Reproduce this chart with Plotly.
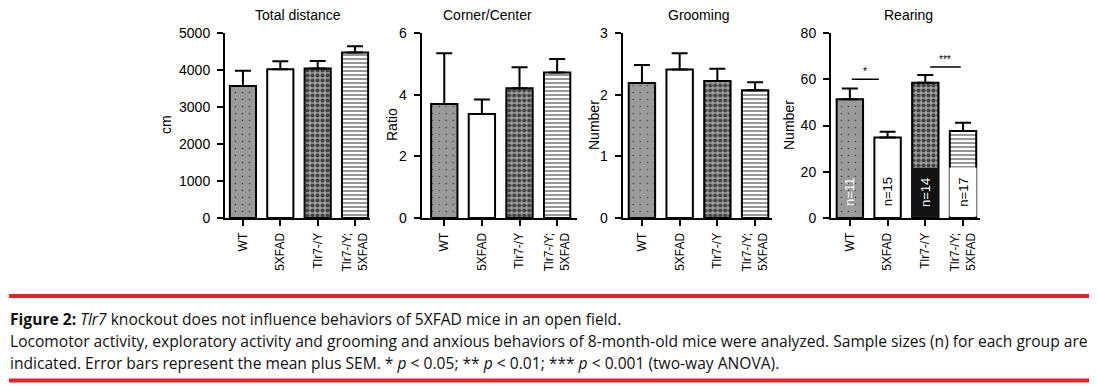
import plotly.graph_objects as go

# ---------------- data ----------------
groups = ["WT", "5XFAD", "Tlr7-/Y", "Tlr7-/Y;<br>5XFAD"]
panel_titles = ["Total distance", "Corner/Center", "Grooming", "Rearing"]
y_titles = ["cm", "Ratio", "Number", "Number"]

total_distance = [3570, 4020, 4040, 4470]
total_distance_sem = [407, 215, 200, 170]
corner_center = [3.70, 3.37, 4.21, 4.72]
corner_center_sem = [1.64, 0.47, 0.68, 0.44]
grooming = [2.19, 2.41, 2.22, 2.07]
grooming_sem = [0.29, 0.26, 0.20, 0.13]
rearing = [51.3, 34.8, 58.5, 37.6]
rearing_sem = [4.7, 2.5, 3.3, 3.6]

y_max = [5000, 6, 3, 80]
y_dtick = [1000, 2, 1, 20]

n_labels = ["n=11", "n=15", "n=14", "n=17"]
# significance brackets in Rearing
sig_start = [0.05, 2.13]
sig_end = [0.77, 2.94]
sig_height = [60.0, 65.3]
sig_label = ["*", "***"]

caption_lines = [
    "<b>Figure 2:</b> <i>Tlr7</i> knockout does not influence behaviors of 5XFAD mice in an open field.",
    "Locomotor activity, exploratory activity and grooming and anxious behaviors of 8-month-old mice were analyzed. Sample sizes (n) for each group are",
    "indicated. Error bars represent the mean plus SEM. * <i>p</i> &lt; 0.05; ** <i>p</i> &lt; 0.01; *** <i>p</i> &lt; 0.001 (two-way ANOVA).",
]

# ---------------- layout geometry ----------------
# the page body has an 8px default margin; the figure is sized to fit the window
OFF = 8
W, H = 1097 - OFF, 391 - OFF


def px(x):
    return (x - OFF) / W


def py(y):
    return 1 - (y - OFF) / H


x_px = [(225, 370), (421.7, 576.7), (622.7, 771.7), (831, 980)]
x_ranges = [(-0.48, 3.40), (-0.60, 3.52), (-0.51, 3.44), (-0.50, 3.45)]
y_dom = [py(218), py(33)]
title_x_px = [297.5, 487, 698, 908]
ytitle_x_px = [166, 392, 594, 789]

values = [total_distance, corner_center, grooming, rearing]
sems = [total_distance_sem, corner_center_sem, grooming_sem, rearing_sem]

FONT = "Liberation Sans, Arial, sans-serif"

bar_colors = ["#9a9a9a", "#ffffff", "#a0a0a0", "#ffffff"]
pattern = dict(
    shape=[".", "", ".", "-"],
    fgcolor=["#b4b4b4", "#ffffff", "#1a1a1a", "#808080"],
    fgopacity=1,
    size=[7, 8, 5, 4],
    solidity=[0.04, 0.2, 0.55, 0.28],
    fillmode="overlay",
)

fig = go.Figure()
for i in range(4):
    suffix = "" if i == 0 else str(i + 1)
    fig.add_trace(go.Bar(
        x=groups, y=values[i],
        xaxis="x" + suffix, yaxis="y" + suffix,
        marker=dict(color=bar_colors,
                    line=dict(color="black", width=2), pattern=pattern),
        error_y=dict(type="data", array=sems[i], arrayminus=[0] * 4, symmetric=False,
                     color="black", thickness=2, width=8),
        showlegend=False, hoverinfo="skip",
    ))

layout = dict(
    template="none",
    width=W, height=H, margin=dict(l=0, r=0, t=0, b=0, pad=0, autoexpand=False),
    paper_bgcolor="white", plot_bgcolor="white",
    bargap=0.3, showlegend=False,
    font=dict(family=FONT, color="black"),
)
annotations = []
shapes = []
for i in range(4):
    suffix = "" if i == 0 else str(i + 1)
    layout["xaxis" + suffix] = dict(
        domain=[px(x_px[i][0]), px(x_px[i][1])], anchor="y" + suffix,
        type="category", range=list(x_ranges[i]), automargin=False,
        showline=True, linecolor="black", linewidth=2,
        ticks="outside", ticklen=6, tickwidth=2, tickcolor="black",
        tickangle=-90, tickfont=dict(size=12, family=FONT, color="black"),
        ticklabelstandoff=2,
        showgrid=False, zeroline=False, fixedrange=True,
    )
    layout["yaxis" + suffix] = dict(
        domain=y_dom, anchor="x" + suffix, automargin=False,
        range=[0, y_max[i]], dtick=y_dtick[i], tick0=0,
        showline=True, linecolor="black", linewidth=2,
        ticks="outside", ticklen=6, tickwidth=2, tickcolor="black",
        tickfont=dict(size=14, family=FONT, color="black"),
        ticklabelstandoff=4,
        showgrid=False, zeroline=False, fixedrange=True,
    )
    annotations.append(dict(
        text=panel_titles[i], x=px(title_x_px[i]), y=py(15),
        xref="paper", yref="paper", showarrow=False,
        xanchor="center", yanchor="middle", font=dict(size=14, family=FONT),
    ))
    annotations.append(dict(
        text=y_titles[i], x=px(ytitle_x_px[i]), y=py(125),
        xref="paper", yref="paper", showarrow=False, textangle=-90,
        xanchor="center", yanchor="middle", font=dict(size=14, family=FONT),
    ))

# n labels inside Rearing bars
n_text_color = ["white", "black", "white", "black"]
n_bg = ["rgba(0,0,0,0)", "rgba(0,0,0,0)", "#111111", "#ffffff"]
for j in range(4):
    annotations.append(dict(
        text=n_labels[j], x=groups[j], y=0, xref="x4", yref="y4",
        showarrow=False, textangle=-90, xanchor="center", yanchor="bottom",
        yshift=1, width=46, height=24, bgcolor=n_bg[j],
        font=dict(size=13, family=FONT, color=n_text_color[j]),
    ))

for k in range(len(sig_label)):
    shapes.append(dict(type="line", xref="x4", yref="y4",
                       x0=sig_start[k], x1=sig_end[k], y0=sig_height[k], y1=sig_height[k],
                       line=dict(color="black", width=1.5)))
    annotations.append(dict(
        text=sig_label[k], x=(sig_start[k] + sig_end[k]) / 2, y=sig_height[k],
        xref="x4", yref="y4", showarrow=False, yanchor="bottom", yshift=0,
        font=dict(size=10, family=FONT),
    ))

# caption and red rules
for y_px in (296, 380.5):
    shapes.append(dict(type="line", xref="paper", yref="paper",
                       x0=px(9), x1=px(1090), y0=py(y_px), y1=py(y_px),
                       line=dict(color="#e8212b", width=4)))
cap_y = [318.5, 340.5, 362.5]
for line, yy in zip(caption_lines, cap_y):
    annotations.append(dict(
        text=line, x=px(8), y=py(yy), xref="paper", yref="paper",
        showarrow=False, xanchor="left", yanchor="middle", align="left",
        font=dict(size=15.6, family="Open Sans, sans-serif", color="#111111"),
    ))

layout["annotations"] = annotations
layout["shapes"] = shapes
fig.update_layout(**layout)
fig.write_html("out.html")
